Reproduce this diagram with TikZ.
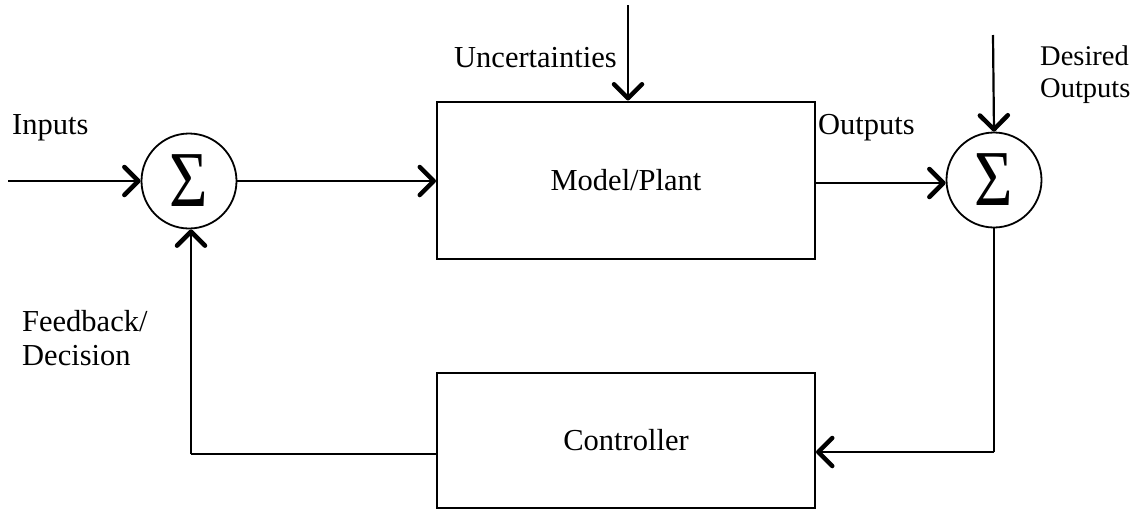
\documentclass[tikz,border=0pt]{standalone}
\usepackage{fontspec}
\setmainfont{Liberation Serif}
\usetikzlibrary{arrows.meta}
\begin{document}
\begin{tikzpicture}[x=1pt,y=-1pt,
  every node/.style={font=\fontsize{30.5}{37}\selectfont},
  blk/.style={draw, line width=2pt, minimum width=378pt, minimum height=157pt, inner sep=0pt},
  sumnode/.style={draw, circle, line width=1.8pt, minimum size=95pt, inner sep=0pt, font=\fontsize{66}{66}\selectfont},
  conn/.style={line width=2.2pt},
  arr/.style={conn, -{Straight Barb[length=14pt,width=28pt,line width=4.5pt,round]}},
  lbl/.style={inner sep=0pt, align=left},
  small/.style={lbl, font=\fontsize{28.5}{34}\selectfont}]
\useasboundingbox (0,0) rectangle (1133,531);
\node[blk] (plant) at (626,180) {Model/Plant};
\node[blk, minimum height=135pt] (ctrl) at (626,440.5) {Controller};
\node[sumnode] (s1) at (189,181) {\scalebox{1}[1.2]{Σ}};
\node[sumnode] (s2) at (994,180) {\scalebox{1}[1.2]{Σ}};
\coordinate (in) at (8,181);
\coordinate (unc) at (628,5);
\coordinate (des) at (993,35);
\coordinate (fbc) at (191,454);
\coordinate (rc) at (994,452);
\draw[arr] (in) -- (s1.west);
\draw[arr] (s1.east) -- (s1.east -| plant.west);
\draw[arr] (plant.east |- 0,183) -- (s2.west |- 0,183);
\draw[arr] (unc) -- (unc |- plant.north);
\draw[arr] (des) -- (s2.north);
\draw[conn] (ctrl.west |- fbc) -- (fbc);
\draw[arr] (fbc) -- (fbc |- s1.south);
\draw[conn] (s2.south) -- (rc);
\draw[arr] (rc) -- (rc -| ctrl.east);
\node[lbl, anchor=base west] (t1) at (12,134) {Inputs};
\node[lbl, anchor=base east] (t2) at (617,67) {Uncertainties};
\node[lbl, anchor=base west] (t3) at (818,134) {Outputs};
\node[small, anchor=base west] (t4) at (1040,65) {Desired};
\node[small, anchor=base west] (t5) at (1040,97) {Outputs};
\node[lbl, anchor=base west] (t6) at (22,331) {Feedback/};
\node[lbl, anchor=base west] (t7) at (22,365) {Decision};
\end{tikzpicture}
\end{document}
